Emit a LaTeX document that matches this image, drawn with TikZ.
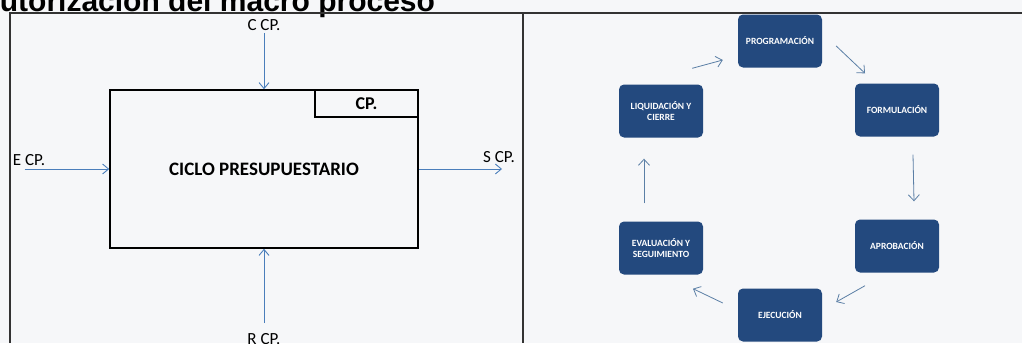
\documentclass[tikz,border=0pt]{standalone}
\usepackage{fontspec}
\setmainfont{Carlito}
\newfontfamily\titlefont{Liberation Sans}
\usetikzlibrary{arrows.meta,calc}
\definecolor{arrowblue}{HTML}{4A7EBB}
\definecolor{boxblue}{HTML}{23497E}
\definecolor{cyclearrow}{HTML}{5B7FA6}
\definecolor{bg}{HTML}{F6F7F9}
\begin{document}
\begin{tikzpicture}[x=1pt,y=-1pt,
  flow/.style={draw=arrowblue, line width=0.9pt, -{Straight Barb[length=6pt,width=10pt]}},
  lbl/.style={font=\fontsize{17}{19}\selectfont, inner sep=0pt},
  stage/.style={draw=none, fill=boxblue, rounded corners=5pt, minimum width=84pt, minimum height=53pt, text=white, font=\bfseries\fontsize{9.5}{11.5}\selectfont, align=center, inner sep=2pt},
  cyc/.style={draw=cyclearrow, line width=0.8pt, -{Straight Barb[length=6pt,width=11pt]}},
  frame/.style={draw=black!80, line width=1.2pt}
]
\useasboundingbox (0,0) rectangle (1022,343);
\fill[bg] (0,0) rectangle (1022,343);
\begin{scope}
\clip (0,0) rectangle (1022,343);
\node[anchor=base west, font=\titlefont\bfseries\fontsize{30}{34}\selectfont, inner sep=0pt] (title) at (-17,11) {autorización del macro proceso};
\end{scope}
% frames
\draw[frame] (10,343) -- (10,13) -- (1022,13);
\draw[frame] (523,13) -- (523,343);
% left panel
\node[draw, line width=1.5pt, minimum width=308pt, minimum height=158pt, inner sep=0pt,
      font=\bfseries\fontsize{19}{22}\selectfont] (cp) at (264,169) {CICLO PRESUPUESTARIO};
\node[draw, line width=1.5pt, anchor=north east, minimum width=103pt, minimum height=27pt, inner sep=0pt,
      font=\bfseries\fontsize{18}{20}\selectfont] (cpsmall) at (cp.north east) {CP.};
\node[lbl] (ccp) at (264,25) {C CP.};
\node[lbl] (ecp) at (29,160) {E CP.};
\node[lbl] (scp) at (499,157) {S CP.};
\node[lbl] (rcp) at (264,339) {R CP.};
\draw[flow] ($(ccp.south)+(0,2)$) -- (cp.north);
\draw[flow] ($(ecp.south west |- cp.west)+(12,0)$) -- (cp.west);
\draw[flow] (cp.east) -- ($(scp.south east |- cp.east)+(-13,0)$);
\draw[flow] ($(rcp.north)+(0,-10)$) -- (cp.south);
% right panel
\node[stage] (prog) at (780,41) {PROGRAMACIÓN};
\node[stage] (form) at (897,110) {FORMULACIÓN};
\node[stage] (apr) at (897,246) {APROBACIÓN};
\node[stage] (eje) at (780,315) {EJECUCIÓN};
\node[stage] (eval) at (661,248) {EVALUACIÓN Y\\SEGUIMIENTO};
\node[stage] (liq) at (661,111) {LIQUIDACIÓN Y\\CIERRE};
\draw[cyc] ($(liq.north east)+(-11,-16)$) -- ($(prog.west)+(-15,19)$);
\draw[cyc] ($(prog.east)+(14,5)$) -- ($(form.north)+(-32,-10)$);
\draw[cyc] ($(form.south)+(16,18)$) -- ($(apr.north)+(17,-18)$);
\draw[cyc] ($(apr.south)+(-32,13)$) -- ($(eje.east)+(14,-13)$);
\draw[cyc] ($(eje.west)+(-15,-12)$) -- ($(eval.south)+(32,14)$);
\draw[cyc] ($(eval.north)+(-17,-18)$) -- ($(liq.south)+(-17,21)$);
\end{tikzpicture}
\end{document}
